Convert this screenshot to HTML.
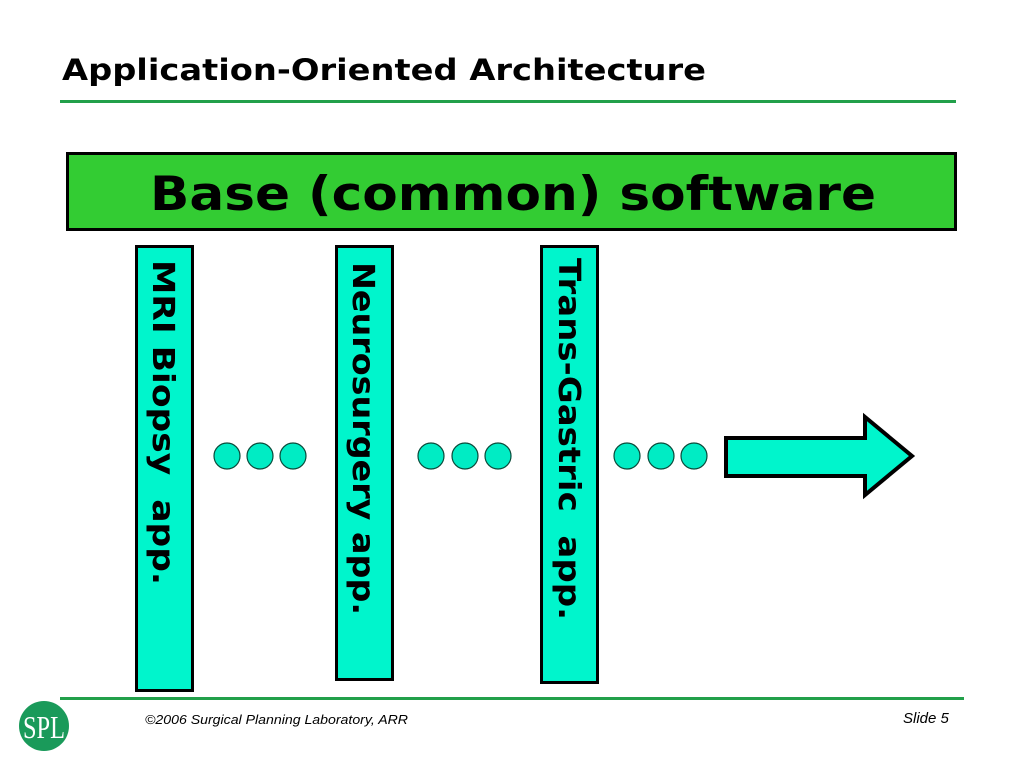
<!DOCTYPE html>
<html><head><meta charset="utf-8"><style>
html,body{margin:0;padding:0;background:#fff;}
svg{display:block;}
</style></head><body>
<svg width="1024" height="768" viewBox="0 0 1024 768" xmlns="http://www.w3.org/2000/svg">
<rect width="1024" height="768" fill="#fff"/>
<text x="62" y="80" font-family="DejaVu Sans, Liberation Sans, sans-serif" font-weight="bold" font-size="29" textLength="644" lengthAdjust="spacingAndGlyphs" fill="#000">Application-Oriented Architecture</text>
<rect x="60" y="100" width="896" height="3" fill="#22a04a"/>
<rect x="67.5" y="153.5" width="888" height="76" fill="#33cc33" stroke="#000" stroke-width="3"/>
<text x="150" y="210" font-family="DejaVu Sans, Liberation Sans, sans-serif" font-weight="bold" font-size="47" textLength="726" lengthAdjust="spacingAndGlyphs" fill="#000">Base (common) software</text>
<rect x="136.5" y="246.5" width="56" height="444" fill="#00f5cc" stroke="#000" stroke-width="3"/>
<rect x="336.5" y="246.5" width="56" height="433" fill="#00f5cc" stroke="#000" stroke-width="3"/>
<rect x="541.5" y="246.5" width="56" height="436" fill="#00f5cc" stroke="#000" stroke-width="3"/>
<g font-family="DejaVu Sans, Liberation Sans, sans-serif" font-weight="bold" font-size="30" fill="#000">
<text transform="translate(153,260) rotate(90)" textLength="325" lengthAdjust="spacingAndGlyphs" xml:space="preserve">MRI Biopsy  app.</text>
<text transform="translate(353,262) rotate(90)" textLength="353" lengthAdjust="spacingAndGlyphs">Neurosurgery app.</text>
<text transform="translate(559,258) rotate(90)" textLength="362" lengthAdjust="spacingAndGlyphs" xml:space="preserve">Trans-Gastric  app.</text>
</g>
<g fill="#00ecc4" stroke="#0a4a3a" stroke-width="1.2">
<circle cx="227" cy="456" r="13"/><circle cx="260" cy="456" r="13"/><circle cx="293" cy="456" r="13"/>
<circle cx="431" cy="456" r="13"/><circle cx="465" cy="456" r="13"/><circle cx="498" cy="456" r="13"/>
<circle cx="627" cy="456" r="13"/><circle cx="661" cy="456" r="13"/><circle cx="694" cy="456" r="13"/>
</g>
<polygon points="726,438 865,438 865,417 912,456 865,495 865,476 726,476" fill="#00f5cc" stroke="#000" stroke-width="4" stroke-linejoin="miter"/>
<rect x="60" y="697" width="904" height="3" fill="#22a04a"/>
<circle cx="44" cy="726" r="25" fill="#1a9a5a"/>
<text x="44" y="738" text-anchor="middle" font-family="Liberation Serif, serif" font-size="32" fill="#fff" textLength="42" lengthAdjust="spacingAndGlyphs">SPL</text>
<text x="145" y="724" font-family="Liberation Sans, sans-serif" font-style="italic" font-size="13" fill="#000" textLength="263" lengthAdjust="spacingAndGlyphs">©2006 Surgical Planning Laboratory, ARR</text>
<text x="903" y="723" font-family="Liberation Sans, sans-serif" font-style="italic" font-size="15" fill="#000">Slide 5</text>
</svg>
</body></html>
